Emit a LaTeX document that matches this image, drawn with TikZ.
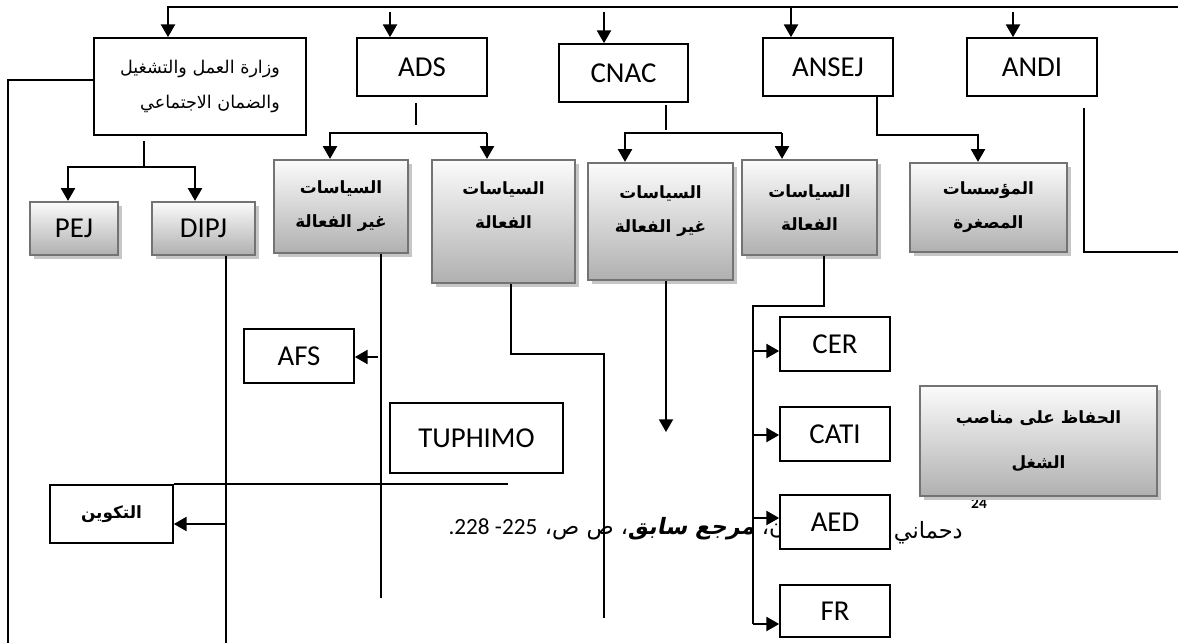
\documentclass[tikz,border=0pt]{standalone}
\usepackage{fontspec}
\setmainfont{Carlito}
\newfontfamily\arabicfont[Script=Arabic]{DejaVu Sans}
\newfontfamily\arabicbi[Script=Arabic,FakeSlant=0.2]{DejaVu Sans Bold}
\TeXXeTstate=1
\usepackage{tikz}
\usetikzlibrary{arrows.meta,shadows}

\newcommand{\artxt}[1]{\beginR #1\endR}

\tikzset{
    link/.style={line width=1.2pt},
    arr/.style={line width=1.2pt, -{Triangle[width=10pt,length=9pt]}},
    box/.style={draw, line width=1.2pt, fill=white, inner sep=0pt,
        font=\fontsize{20.5}{24}\selectfont},
    arplain/.style={box, align=right, font=\arabicfont\fontsize{12.5}{25}\selectfont},
    arbold/.style={box, font=\arabicfont\bfseries\fontsize{12}{15}\selectfont},
    shadebox/.style={draw=black!55, line width=1.6pt,
        top color=gray!3, bottom color=gray!62, inner sep=0pt, align=center,
        drop shadow={shadow xshift=2.6pt, shadow yshift=-2.6pt, fill=gray!45, opacity=1}},
    latshade/.style={shadebox, font=\fontsize{20.5}{24}\selectfont},
    arshade/.style={shadebox, font=\arabicfont\bfseries\fontsize{12}{24}\selectfont},
    fnote/.style={inner sep=0pt, font=\arabicfont\fontsize{16}{18}\selectfont}
}

\begin{document}
\begin{tikzpicture}[x=0.025cm, y=-0.025cm]
\useasboundingbox (0,0) rectangle (1178,643);

% points on the connectors
\coordinate (top0) at (168,7);
\coordinate (topR) at (1178,7);
\coordinate (t1) at (390,12);
\coordinate (t2) at (604,12);
\coordinate (t3) at (791,7);
\coordinate (t4) at (1013,12);

% footnote under the boxes
\node[fnote, anchor=base east] (fnote) at (786,534)
    {\beginR ن، {\arabicbi مرجع سابق}، ص ص،\endR};
\node[inner sep=0pt, anchor=base east, font=\fontsize{16.5}{18}\selectfont] (fnums)
    at ([xshift=-5pt]fnote.base west) {.228 -225};
\node[fnote, anchor=base east] (fname) at (963,538) {\artxt{دحماني}};
\node[inner sep=0pt, font=\bfseries\fontsize{11}{12}\selectfont] (fnum) at (979,503) {24};

% top row
\node[arplain, minimum width=5.3cm, minimum height=2.425cm] (wizara) at (200,86.5)
    {\artxt{وزارة العمل والتشغيل}\\\artxt{والضمان الاجتماعي}};
\node[box, minimum width=3.25cm, minimum height=1.45cm] (ads) at (422,67) {ADS};
\node[box, minimum width=3.225cm, minimum height=1.45cm] (cnac) at (623.5,73) {CNAC};
\node[box, minimum width=3.25cm, minimum height=1.45cm] (ansej) at (828,67) {ANSEJ};
\node[box, minimum width=3.25cm, minimum height=1.45cm] (andi) at (1032,67) {ANDI};

% second row
\node[latshade, minimum width=2.2cm, minimum height=1.325cm] (pej) at (74,228.5) {PEJ};
\node[latshade, minimum width=2.575cm, minimum height=1.325cm] (dipj) at (203.5,228.5) {DIPJ};
\node[arshade, minimum width=3.35cm, minimum height=2.325cm] (adsno) at (341,206.5)
    {\artxt{السياسات}\\\artxt{غير الفعالة}};
\node[arshade, minimum width=3.575cm, minimum height=3.075cm] (adsyes) at (503.5,221.5)
    {\artxt{السياسات}\\\artxt{الفعالة}\rule[-0.81cm]{0pt}{0.81cm}};
\node[arshade, minimum width=3.625cm, minimum height=2.925cm] (cnacno) at (660.5,221.5)
    {\artxt{السياسات}\\\artxt{غير الفعالة}\rule[-0.61cm]{0pt}{0.61cm}};
\node[arshade, minimum width=3.375cm, minimum height=2.375cm] (cnacyes) at (809.5,207.5)
    {\artxt{السياسات}\\\artxt{الفعالة}};
\node[arshade, minimum width=3.925cm, minimum height=2.225cm] (mouss) at (988.5,207.5)
    {\artxt{المؤسسات}\\\artxt{المصغرة}};

% lower boxes
\node[box, minimum width=2.75cm, minimum height=1.35cm] (afs) at (299,356) {AFS};
\node[box, minimum width=4.325cm, minimum height=1.75cm] (tuphimo) at (476.5,438) {TUPHIMO};
\node[arbold, minimum width=3.075cm, minimum height=1.45cm] (takween) at (111.5,514) {\artxt{التكوين}};
\node[box, minimum width=2.75cm, minimum height=1.35cm] (cer) at (835,344) {CER};
\node[box, minimum width=2.75cm, minimum height=1.35cm] (cati) at (835,434) {CATI};
\node[box, minimum width=2.75cm, minimum height=1.35cm] (aed) at (835,522) {AED};
\node[box, minimum width=2.75cm, minimum height=1.3cm] (fr) at (835,611) {FR};
\node[arshade, minimum width=5.925cm, minimum height=2.75cm,
    font=\arabicfont\bfseries\fontsize{12}{32}\selectfont] (hifaz) at (1038.5,441)
    {\artxt{الحفاظ على مناصب}\\\artxt{الشغل}};

% top bus
\draw[arr] (topR) -- (top0) -- (wizara.north -| top0);
\draw[arr] (t1) -- (ads.north -| t1);
\draw[arr] (t2) -- (cnac.north -| t2);
\draw[arr] (t3) -- (ansej.north -| t3);
\draw[arr] (t4) -- (andi.north -| t4);

% ministry
\coordinate (w0) at (144,141);
\coordinate (w1) at (144,167);
\coordinate (w2) at (68,167);
\coordinate (w3) at (195,167);
\draw[link] (w0) -- (w1);
\draw[arr] (w1) -- (w2) -- (pej.north -| w2);
\draw[arr] (w1) -- (w3) -- (dipj.north -| w3);
\coordinate (l0) at (8,80);
\coordinate (l1) at (8,643);
\draw[link] (wizara.west |- l0) -- (l0) -- (l1);

% ADS
\coordinate (s0) at (416,103);
\coordinate (s1) at (416,125);
\coordinate (p1) at (330,133);
\coordinate (p2) at (487,133);
\draw[link] (s0) -- (s1);
\draw[arr] (p2) -- (p1) -- (adsno.north -| p1);
\draw[arr] (p2) -- (adsyes.north -| p2);

% CNAC
\coordinate (n0) at (666,105);
\coordinate (n1) at (666,130);
\coordinate (q1) at (625,133);
\coordinate (q2) at (782,133);
\draw[link] (n0) -- (n1);
\draw[arr] (q2) -- (q1) -- (cnacno.north -| q1);
\draw[arr] (q2) -- (cnacyes.north -| q2);

% ANSEJ
\coordinate (a1) at (877,135);
\coordinate (a2) at (978,135);
\draw[arr] (ansej.south -| a1) -- (a1) -- (a2) -- (mouss.north -| a2);

% ANDI
\coordinate (d0) at (1084,108);
\coordinate (d1) at (1084,252);
\coordinate (d2) at (1178,252);
\draw[link] (d0) -- (d1) -- (d2);

% DIPJ
\coordinate (j0) at (226,643);
\coordinate (j1) at (226,524);
\coordinate (k0) at (508,487);
\draw[link] (dipj.south -| j0) -- (j0);
\draw[arr] (j1) -- (takween.east |- j1);
\draw[link] (takween.north east) -- (takween.north east -| k0);

% ADS policies
\coordinate (g0) at (381,598);
\coordinate (g1) at (378,357);
\draw[link] (adsno.south -| g0) -- (g0);
\draw[arr] (g1) -- (afs.east |- g1);
\coordinate (h0) at (511,354);
\coordinate (h1) at (604,354);
\coordinate (h2) at (604,618);
\draw[link] (adsyes.south -| h0) -- (h0) -- (h1) -- (h2);

% CNAC policies
\coordinate (c0) at (666,432);
\draw[arr] (cnacno.south -| c0) -- (c0);
\coordinate (e0) at (824,306);
\coordinate (e1) at (753,306);
\coordinate (v1) at (753,351);
\coordinate (v2) at (753,435);
\coordinate (v3) at (753,518);
\coordinate (v4) at (753,624);
\draw[link] (cnacyes.south -| e0) -- (e0) -- (e1) -- (v4);
\draw[arr] (v1) -- (cer.west |- v1);
\draw[arr] (v2) -- (cati.west |- v2);
\draw[arr] (v3) -- (aed.west |- v3);
\draw[arr] (v4) -- (fr.west |- v4);

\end{tikzpicture}
\end{document}
